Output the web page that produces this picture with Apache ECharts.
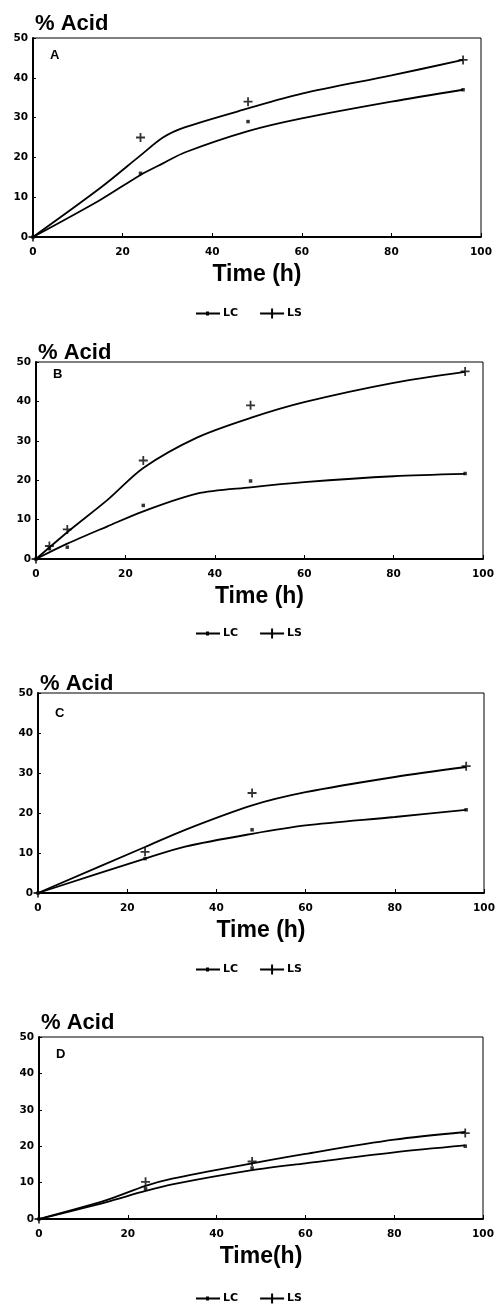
<!DOCTYPE html>
<html>
<head>
<meta charset="utf-8">
<script src="https://cdn.jsdelivr.net/npm/echarts@6/dist/echarts.min.js"></script>
<style>
  html, body { margin: 0; padding: 0; background: #fff; }
  #chart { width: 498px; height: 1305px; }
</style>
</head>
<body>
<div id="chart"></div>
<script>
// panel letters and axis titles
const panelNames = ["A", "B", "C", "D"];
const timeTitles = ["Time (h)", "Time (h)", "Time (h)", "Time(h)"];
const seriesNames = ["LC", "LS"];

// measured points (time in h, % acid)
const timeA = [0, 24, 48, 96];
const lcA = [0, 16, 29, 37];
const lsA = [0, 25, 34, 44.5];
const timeB = [0, 3, 7, 24, 48, 96];
const lcB = [0, 2.7, 3, 13.6, 19.8, 21.7];
const lsB = [0, 3.3, 7.5, 25, 39, 47.6];
const timeC = [0, 24, 48, 96];
const lcC = [0, 8.6, 15.8, 20.8];
const lsC = [0, 10.3, 25, 31.7];
const timeD = [0, 24, 48, 96];
const lcD = [0, 8.3, 14, 20];
const lsD = [0, 10.2, 15.8, 23.6];

// fitted curves
const curveTimeA = [0, 15, 24, 29, 34, 48, 60, 80, 96];
const fitLcA = [0, 9.3, 15.6, 18.5, 21.3, 26.6, 29.8, 34, 37];
const fitLsA = [0, 12.3, 20.5, 25, 27.6, 32.3, 36, 40.6, 44.5];
const curveTimeB = [0, 7, 16, 24, 36, 48, 60, 80, 96];
const fitLcB = [0, 3.9, 8.3, 12.1, 16.6, 18.2, 19.5, 21, 21.6];
const fitLsB = [0, 6.8, 15, 23.1, 30.8, 35.8, 39.8, 44.7, 47.5];
const curveTimeC = [0, 24, 33, 48, 60, 80, 96];
const fitLcC = [0, 8.6, 11.6, 14.8, 16.9, 19, 20.8];
const fitLsC = [0, 11.5, 15.8, 21.9, 25.2, 29, 31.5];
const curveTimeD = [0, 15, 24, 30, 48, 60, 80, 96];
const fitLcD = [0, 4.6, 7.7, 9.5, 13.4, 15.3, 18.3, 20.2];
const fitLsD = [0, 5.1, 9.1, 11.1, 15.3, 17.9, 21.8, 23.9];

const points = [
  [timeA, lcA, lsA], [timeB, lcB, lsB], [timeC, lcC, lsC], [timeD, lcD, lsD]
];
const curves = [
  [curveTimeA, fitLcA, fitLsA], [curveTimeB, fitLcB, fitLsB],
  [curveTimeC, fitLcC, fitLsC], [curveTimeD, fitLcD, fitLsD]
];

// layout of each panel (px)
const boxes = [
  { left: 33, top: 38, width: 448, height: 199, title: 8, letter: 44, legend: 303 },
  { left: 36, top: 362, width: 447, height: 197, title: 337, letter: 363, legend: 623 },
  { left: 38, top: 693, width: 446, height: 200, title: 668, letter: 702, legend: 959 },
  { left: 39, top: 1037, width: 444, height: 182, title: 1007, letter: 1043, legend: 1288 }
];

const plusPath = "path://M4,0h2v10h-2zM0,4h10v2h-10z";
const tickFont = { fontFamily: "DejaVu Sans", fontWeight: "bold", fontSize: 10.5, color: "#000" };

function zip(xs, ys) {
  return xs.map((x, i) => [x, ys[i]]);
}

let grid = [], xAxis = [], yAxis = [], series = [], title = [], legend = [];

boxes.forEach((b, i) => {
  grid.push({
    left: b.left, top: b.top, width: b.width, height: b.height,
    show: true, borderColor: "#000", borderWidth: 1, backgroundColor: "transparent"
  });
  xAxis.push({
    gridIndex: i, type: "value", min: 0, max: 100, interval: 20,
    name: timeTitles[i], nameLocation: "middle", nameGap: 26,
    nameTextStyle: { fontFamily: "Liberation Sans", fontWeight: "bold", fontSize: 23, color: "#000" },
    axisLine: { onZero: false, lineStyle: { color: "#000", width: 2 } },
    axisTick: { inside: true, length: 4, lineStyle: { color: "#000", width: 1 } },
    axisLabel: Object.assign({ margin: 10 }, tickFont),
    splitLine: { show: false }
  });
  yAxis.push({
    gridIndex: i, type: "value", min: 0, max: 50, interval: 10,
    axisLine: { onZero: false, lineStyle: { color: "#000", width: 2 } },
    axisTick: { inside: true, length: 3, lineStyle: { color: "#000", width: 1 } },
    axisLabel: Object.assign({ margin: 5 }, tickFont),
    splitLine: { show: false }
  });
  title.push({
    text: "% Acid", left: b.left - 3, top: b.title,
    textStyle: { fontFamily: "Liberation Sans", fontWeight: "bold", fontSize: 22, color: "#000" }
  });
  title.push({
    text: panelNames[i], left: b.left + 12, top: b.letter,
    textStyle: { fontFamily: "Liberation Sans", fontWeight: "bold", fontSize: 13, color: "#000" }
  });
  legend.push({
    left: 191, top: b.legend, itemWidth: 24, itemHeight: 10, itemGap: 22,
    selectedMode: false,
    textStyle: { fontFamily: "DejaVu Sans", fontWeight: "bold", fontSize: 11, color: "#000", padding: [0, 0, 0, -2] },
    data: [
      { name: "LC", icon: "path://M0,4h24v2h-24zM10,3h3v4h-3z" },
      { name: "LS", icon: "path://M0,4h24v2h-24zM11,0h2v10h-2z" }
    ]
  });

  const c = curves[i], p = points[i];
  [1, 2].forEach(k => {
    series.push({
      name: seriesNames[k - 1], type: "line", xAxisIndex: i, yAxisIndex: i,
      data: zip(c[0], c[k]), smooth: 0.3,
      showSymbol: false, symbol: "none",
      lineStyle: { color: "#000", width: 1.8 }, itemStyle: { color: "#000" }
    });
    series.push({
      name: seriesNames[k - 1], type: "scatter", xAxisIndex: i, yAxisIndex: i,
      data: zip(p[0], p[k]),
      symbol: k === 1 ? "rect" : plusPath,
      symbolSize: k === 1 ? 3.5 : 9,
      itemStyle: { color: "#000" }
    });
  });
});

const chart = echarts.init(document.getElementById("chart"));
chart.setOption({
  backgroundColor: "#fff",
  animation: false,
  title: title,
  legend: legend,
  grid: grid,
  xAxis: xAxis,
  yAxis: yAxis,
  series: series
});
</script>
</body>
</html>
